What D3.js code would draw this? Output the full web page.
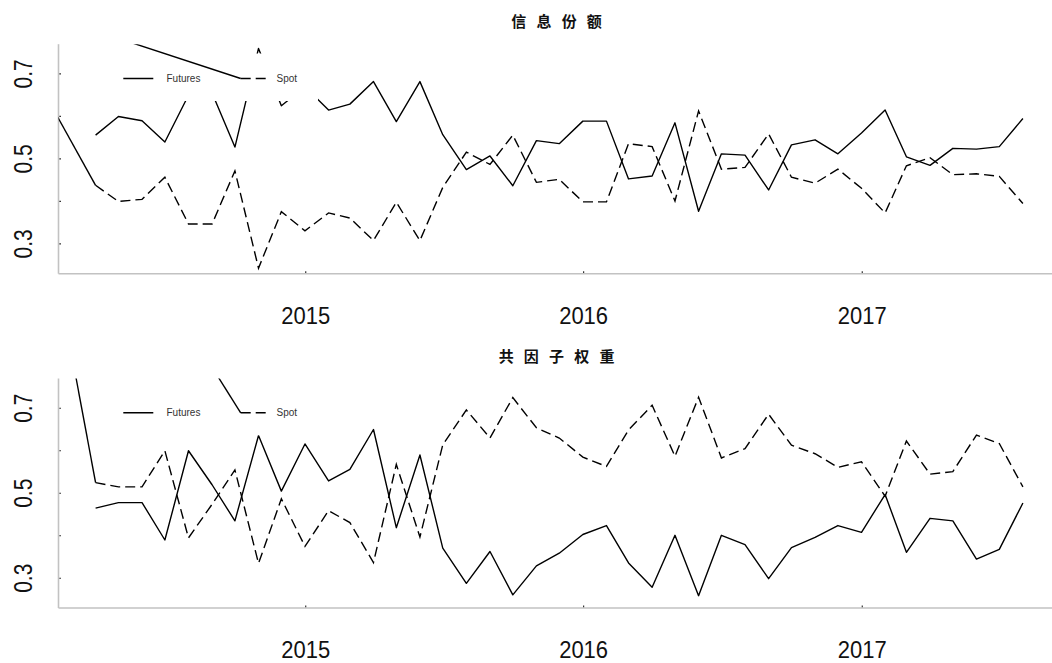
<!DOCTYPE html>
<html>
<head>
<meta charset="utf-8">
<script src="https://cdn.jsdelivr.net/npm/d3@7"></script>
<style>
  body { margin: 0; background: #fff; }
  text { font-family: "Liberation Sans", Arial, sans-serif; }
  .title { font-family: "Noto Sans CJK SC", sans-serif; font-weight: bold; }
</style>
</head>
<body>
<svg id="chart" width="1052" height="663"></svg>
<script>
// Month-end observation dates: Mar 2014 through Jul 2017
const dates = d3.utcMonth
  .range(new Date(Date.UTC(2014, 3, 1)), new Date(Date.UTC(2017, 7, 2)))
  .map(d => d3.utcDay.offset(d, -1));

const seriesNames = ["Futures", "Spot"];
const panelTitles = ["信 息 份 额", "共 因 子 权 重"];
const yearTicks = ["2015-01-01", "2016-01-01", "2017-01-01"];
const yTicks = [0.3, 0.4, 0.5, 0.6, 0.7];
const yTickLabels = ["0.3", "", "0.5", "", "0.7"];
const yLimits = [0.25, 0.75];

// Information share
const infoFutures = [
  0.556, 0.600, 0.590, 0.540, 0.650, 0.655, 0.528, 0.760, 0.625, 0.670,
  0.615, 0.629, 0.682, 0.588, 0.682, 0.557, 0.475, 0.507, 0.437, 0.543, 0.536, 0.589,
  0.589, 0.453, 0.460, 0.585, 0.377, 0.512, 0.509, 0.427, 0.533, 0.545, 0.512, 0.561,
  0.615, 0.505, 0.485, 0.525, 0.523, 0.529, 0.595
];
const infoSpot = [
  0.438, 0.400, 0.405, 0.457, 0.347, 0.347, 0.472, 0.243, 0.376, 0.331,
  0.373, 0.361, 0.308, 0.398, 0.308, 0.433, 0.516, 0.487, 0.556, 0.445, 0.452, 0.399,
  0.399, 0.536, 0.529, 0.401, 0.613, 0.476, 0.480, 0.559, 0.457, 0.443, 0.476, 0.431,
  0.373, 0.484, 0.503, 0.463, 0.465, 0.459, 0.395
];

// Common factor weight
const commonFutures = [
  0.465, 0.478, 0.478, 0.390, 0.600, 0.520, 0.435, 0.636, 0.505, 0.616,
  0.529, 0.556, 0.650, 0.419, 0.590, 0.371, 0.288, 0.363, 0.261, 0.329, 0.359, 0.403,
  0.424, 0.336, 0.279, 0.401, 0.259, 0.401, 0.379, 0.299, 0.372, 0.396, 0.424, 0.408,
  0.497, 0.361, 0.441, 0.435, 0.345, 0.368, 0.477
];
const commonSpot = [
  0.525, 0.515, 0.515, 0.600, 0.395, 0.474, 0.555, 0.335, 0.487, 0.375,
  0.459, 0.431, 0.337, 0.568, 0.397, 0.614, 0.696, 0.630, 0.725, 0.654, 0.630, 0.585,
  0.563, 0.649, 0.707, 0.587, 0.726, 0.583, 0.605, 0.686, 0.613, 0.593, 0.561, 0.574,
  0.493, 0.623, 0.545, 0.551, 0.637, 0.617, 0.515
];

// Stray pen strokes left by the plotting device: each runs from a point
// (date, value) to the start of the Spot trace and to the Spot legend key.
const spotStrayFrom = [["2014-01-19", 0.667], ["2014-02-24", 0.861]];
const legendStrayFrom = [["2014-02-10", 0.830], ["2014-08-09", 0.859]];

const panels = [
  { title: panelTitles[0], futures: infoFutures, spot: infoSpot,
    spotFrom: spotStrayFrom[0], legendFrom: legendStrayFrom[0] },
  { title: panelTitles[1], futures: commonFutures, spot: commonSpot,
    spotFrom: spotStrayFrom[1], legendFrom: legendStrayFrom[1] }
];

// ---- layout ----
const svg = d3.select("#chart");
const plotLeft = 58.5, plotRight = 1060;
const plotTops = [44.2, 378.5];
const plotHeight = 229.5;
const dash = "10,5";
const ink = "#000";
const axisGrey = "#c2c2c2";

// R-style 4% padding on both axes
const tMin = d3.min(dates), tMax = d3.max(dates);
const tPad = (tMax - tMin) * 0.04;
const x = d3.scaleUtc()
  .domain([new Date(+tMin - tPad), new Date(+tMax + tPad)])
  .range([plotLeft, plotRight]);
const yPad = (yLimits[1] - yLimits[0]) * 0.04;
const yDomain = [yLimits[0] - yPad, yLimits[1] + yPad];

const parse = d3.utcParse("%Y-%m-%d");

panels.forEach((p, i) => {
  const top = plotTops[i], bottom = top + plotHeight;
  const y = d3.scaleLinear().domain(yDomain).range([bottom, top]);
  const g = svg.append("g");

  const clipId = "clip" + i;
  svg.append("clipPath").attr("id", clipId)
    .append("rect")
    .attr("x", plotLeft).attr("y", top)
    .attr("width", plotRight - plotLeft).attr("height", plotHeight);

  // title
  g.append("text").attr("class", "title")
    .attr("x", (plotLeft + plotRight) / 2 - 1).attr("y", top - 17)
    .attr("text-anchor", "middle")
    .attr("font-size", 15).attr("letter-spacing", 3.4)
    .attr("fill", "#111")
    .text(p.title);

  // axes lines
  g.append("line").attr("x1", plotLeft).attr("x2", plotLeft)
    .attr("y1", top).attr("y2", bottom)
    .attr("stroke", axisGrey).attr("stroke-width", 1.6);
  g.append("line").attr("x1", plotLeft).attr("x2", plotRight)
    .attr("y1", bottom).attr("y2", bottom)
    .attr("stroke", axisGrey).attr("stroke-width", 1.6);

  // y axis ticks and labels
  const yAxis = g.append("g");
  yAxis.selectAll("line").data(yTicks).join("line")
    .attr("x1", plotLeft + 0.8).attr("x2", plotLeft + 2.5)
    .attr("y1", d => y(d)).attr("y2", d => y(d))
    .attr("stroke", "#333").attr("stroke-width", 1.2);
  yAxis.selectAll("text").data(yTicks).join("text")
    .attr("transform", d => `translate(32,${y(d)}) rotate(-90) scale(1,1.22)`)
    .attr("text-anchor", "middle")
    .attr("font-size", 21).attr("fill", "#111")
    .text((d, k) => yTickLabels[k]);

  // x axis ticks and labels
  const xAxis = g.append("g");
  const xt = yearTicks.map(parse);
  xAxis.selectAll("line").data(xt).join("line")
    .attr("x1", d => x(d)).attr("x2", d => x(d))
    .attr("y1", bottom - 2.5).attr("y2", bottom - 0.8)
    .attr("stroke", "#333").attr("stroke-width", 1.2);
  xAxis.selectAll("text").data(xt).join("text")
    .attr("transform", d => `translate(${x(d)},${bottom + 50}) scale(1,1.06)`)
    .attr("text-anchor", "middle")
    .attr("font-size", 22).attr("fill", "#111")
    .text(d => d3.utcFormat("%Y")(d));

  // series
  const plot = g.append("g").attr("clip-path", `url(#${clipId})`);
  const line = d3.line().x(d => x(d[0])).y(d => y(d[1]));
  const fut = dates.map((d, k) => [d, p.futures[k]]);
  const spt = dates.map((d, k) => [d, p.spot[k]]);

  plot.append("path").datum(fut).attr("d", line)
    .attr("fill", "none").attr("stroke", ink).attr("stroke-width", 1.4)
    .attr("stroke-linejoin", "round");
  plot.append("path").datum(spt).attr("d", line)
    .attr("fill", "none").attr("stroke", ink).attr("stroke-width", 1.4)
    .attr("stroke-dasharray", dash);
  // stray stroke into the first Spot point
  plot.append("path")
    .datum([[parse(p.spotFrom[0]), p.spotFrom[1]], spt[0]])
    .attr("d", line)
    .attr("fill", "none").attr("stroke", ink).attr("stroke-width", 1.4);

  // legend (white background, no border)
  const lg = plot.append("g");
  const boxX = 111, boxW = 207;
  const boxY = top + 9.3, boxH = 47.5;
  const keyY = top + 34.3;
  lg.append("rect").attr("x", boxX).attr("y", boxY)
    .attr("width", boxW).attr("height", boxH).attr("fill", "#fff");

  const keys = [
    { name: seriesNames[0], x0: 123.3, tx: 166.5, dash: null },
    { name: seriesNames[1], x0: 240.7, tx: 276.5, dash: dash }
  ];
  keys.forEach(k => {
    lg.append("line").attr("x1", k.x0).attr("x2", k.x0 + 30)
      .attr("y1", keyY).attr("y2", keyY)
      .attr("stroke", ink).attr("stroke-width", 1.4)
      .attr("stroke-dasharray", k.dash);
    lg.append("text").attr("x", k.tx).attr("y", keyY + 3.6)
      .attr("font-size", 10).attr("fill", "#333")
      .text(k.name);
  });
  // stray stroke into the Spot legend key
  const lf = p.legendFrom;
  lg.append("line")
    .attr("x1", x(parse(lf[0]))).attr("y1", y(lf[1]))
    .attr("x2", keys[1].x0).attr("y2", keyY)
    .attr("stroke", ink).attr("stroke-width", 1.4);
});
</script>
</body>
</html>
